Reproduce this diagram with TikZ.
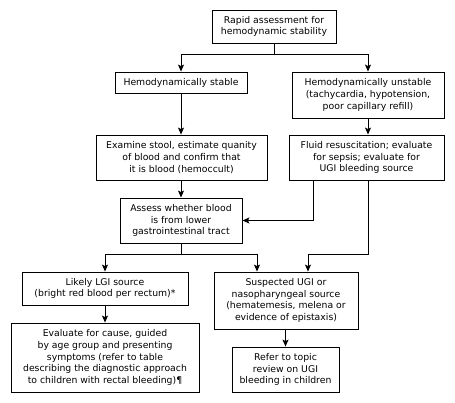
\documentclass[tikz,border=0pt]{standalone}
\usepackage{fontspec}
\setmainfont{DejaVu Sans}
\usetikzlibrary{arrows.meta}
\begin{document}
\begin{tikzpicture}[x=1pt,y=-1pt,
  box/.style={draw,line width=0.9pt,rectangle,align=center,inner sep=0pt,
    font=\fontsize{9.3}{11.8}\selectfont},
  arr/.style={-{Stealth[length=7pt,width=6pt,inset=1.5pt]},line width=0.9pt},
  link/.style={line width=0.9pt}]
\useasboundingbox (0,0) rectangle (455,403);
% boxes (centre, size)
\node[box,minimum width=124pt,minimum height=33pt] (top) at (274,26.5)
  {Rapid assessment for\\hemodynamic stability};
\node[box,minimum width=132pt,minimum height=21pt] (stable) at (181,82.5)
  {Hemodynamically stable};
\node[box,minimum width=152pt,minimum height=46pt] (unstable) at (368,95)
  {Hemodynamically unstable\\(tachycardia, hypotension,\\poor capillary refill)};
\node[box,minimum width=171pt,minimum height=45pt] (examine) at (181.5,157.5)
  {Examine stool, estimate quanity\\of blood and confirm that\\it is blood (hemoccult)};
\node[box,minimum width=155pt,minimum height=45pt] (fluid) at (366.5,157.5)
  {Fluid resuscitation; evaluate\\for sepsis; evaluate for\\UGI bleeding source};
\node[box,minimum width=122pt,minimum height=45pt] (assess) at (181,220.5)
  {Assess whether blood\\is from lower\\gastrointestinal tract};
\node[box,minimum width=166pt,minimum height=33pt] (lgi) at (105,288.5)
  {Likely LGI source\\(bright red blood per rectum)*};
\node[box,minimum width=188pt,minimum height=69pt] (eval) at (105,357.5)
  {Evaluate for cause, guided\\by age group and presenting\\symptoms (refer to table\\describing the diagnostic approach\\to children with rectal bleeding)¶};
\node[box,minimum width=144pt,minimum height=57pt] (ugi) at (286,300.5)
  {Suspected UGI or\\nasopharyngeal source\\(hematemesis, melena or\\evidence of epistaxis)};
\node[box,minimum width=107pt,minimum height=45pt] (refer) at (285.5,369.5)
  {Refer to topic\\review on UGI\\bleeding in children};
% junctions
\coordinate (j1) at (274,54);
\coordinate (j2) at (181,254);
\coordinate (j3) at (308,254);
% connectors
\draw[link] (top.south) -- (j1);
\draw[arr] (j1) -| (stable.north);
\draw[arr] (j1) -| (unstable.north);
\draw[arr] (stable.south) -- (stable.south |- examine.north);
\draw[arr] (unstable.south) -- (unstable.south |- fluid.north);
\draw[arr] (examine.south -| assess.north) -- (assess.north);
\draw[arr] ([xshift=25pt]fluid.south west) |- (assess.east);
\draw[link] (fluid.south -| unstable.south) |- (j3);
\draw[arr] (j3) -- (j3 |- ugi.north);
\draw[link] (assess.south) -- (j2);
\draw[arr] (j2) -| (lgi.north);
\draw[arr] (j2) -| ([xshift=-29pt]ugi.north);
\draw[arr] (lgi.south) -- (eval.north);
\draw[arr] (ugi.south -| refer.north) -- (refer.north);
\end{tikzpicture}
\end{document}
